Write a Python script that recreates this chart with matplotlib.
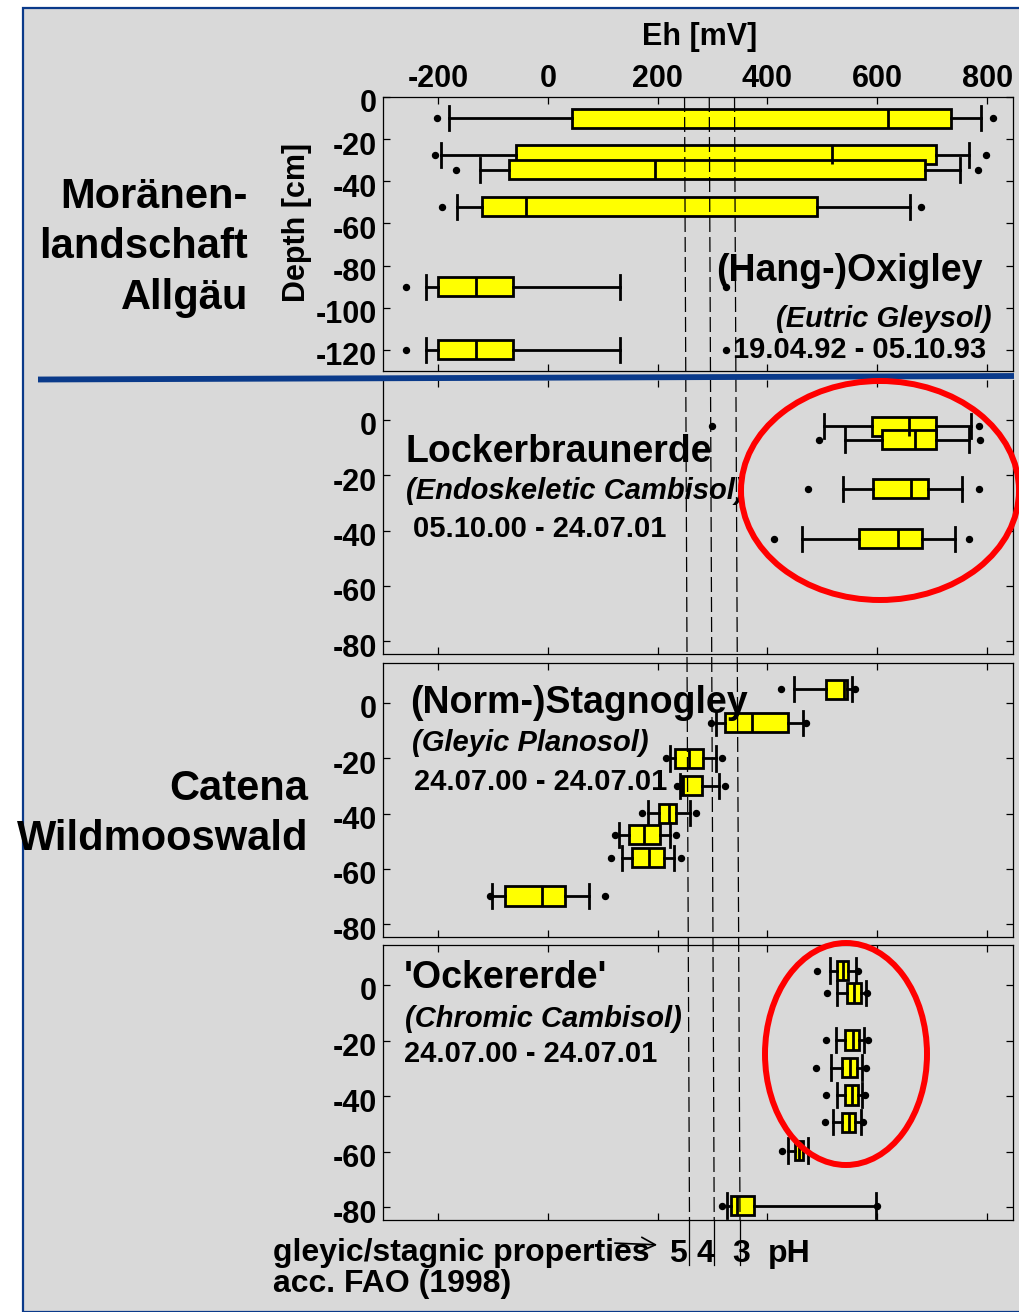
import numpy as np
import matplotlib
matplotlib.use('Agg')
import matplotlib.pyplot as plt
from matplotlib.patches import Ellipse, Rectangle
from matplotlib.lines import Line2D
from matplotlib.transforms import ScaledTranslation

plt.rcParams['font.family'] = ['Liberation Sans', 'DejaVu Sans']
plt.rcParams['font.weight'] = 'bold'
plt.rcParams['axes.unicode_minus'] = False

W, H = 1020, 1312
BG = '#d9d9d9'
NAVY = '#0a3a8a'

eh_ticks = [-200, 0, 200, 400, 600, 800]
depth_ticks_top = [0, -20, -40, -60, -80, -100, -120]
depth_ticks = [0, -20, -40, -60, -80]

# (Hang-)Oxigley, Moraenenlandschaft Allgaeu
d1 = [-10, -27.5, -34.5, -52, -90, -120]
q1_1 = [45, -57, -71, -119, -200, -200]
med_1 = [620, 518, 195, -40, -131, -131]
q3_1 = [735, 707, 687, 491, -64, -64]
lo_1 = [-180, -194, -124, -166, -222, -222]
hi_1 = [789, 766, 750, 659, 132, 132]
fl_1 = [[-202, 810], [-205, 798], [-167, 783], [-192, 680], [-259, 325], [-259, 325]]

# Lockerbraunerde
d2 = [-2.3, -7.2, -24.9, -43]
q1_2 = [590, 608, 592, 566]
med_2 = [658, 669, 661, 637]
q3_2 = [706, 707, 692, 681]
lo_2 = [502, 542, 537, 463]
hi_2 = [771, 766, 755, 741]
fl_2 = [[299, 786], [493, 787], [473, 786], [411, 766]]

# (Norm-)Stagnogley
d3 = [4.9, -7.2, -20.1, -30, -39.9, -47.7, -55.9, -69.8]
q1_3 = [507, 322, 232, 244, 202, 147, 153, -77]
med_3 = [539, 372, 257, 247, 220, 175, 185, -10]
q3_3 = [545, 438, 283, 280, 234, 205, 211, 32]
lo_3 = [448, 307, 223, 240, 182, 130, 136, -102]
hi_3 = [553, 465, 307, 312, 259, 223, 229, 75]
fl_3 = [[425, 559], [297, 471], [216, 318], [236, 323], [171, 270], [122, 234], [116, 242], [-105, 104]]

# 'Ockererde'
d4 = [5.2, -2.9, -19.8, -29.7, -39.6, -49.4, -59.6, -79.4]
q1_4 = [527, 544, 542, 536, 542, 536, 450, 333]
med_4 = [537, 557, 555, 550, 553, 548, 457, 344]
q3_4 = [547, 570, 567, 563, 565, 559, 465, 375]
lo_4 = [513, 526, 524, 515, 526, 520, 438, 327]
hi_4 = [561, 579, 576, 572, 572, 570, 474, 598]
fl_4 = [[490, 565], [509, 581], [507, 583], [489, 580], [507, 578], [504, 574], [427], [317, 600]]

# Eh of the pH 5 / 4 / 3 lines (top and bottom of the figure)
ph_eh_top = [249, 294, 340]
ph_eh_bottom = [258, 303, 350]
ph_labels = ['5', '4', '3']


def stats(q1, med, q3, lo, hi, fl):
    return [dict(q1=a, med=b, q3=c, whislo=d, whishi=e, fliers=f)
            for a, b, c, d, e, f in zip(q1, med, q3, lo, hi, fl)]


def fx(x):
    return x / W


def fy(y):
    return 1 - y / H


fig = plt.figure(figsize=(W / 100, H / 100), dpi=100)
fig.patch.set_facecolor('white')
fig.add_artist(Rectangle((fx(23), 0), 1, fy(7.5), transform=fig.transFigure,
                         facecolor=BG, edgecolor=NAVY, lw=1.6, zorder=-10))

panels = [
    (97, 371, (-130, 0), depth_ticks_top, d1, stats(q1_1, med_1, q3_1, lo_1, hi_1, fl_1), 9, 11.4),
    (380, 654, (-84.6, 14.4), depth_ticks, d2, stats(q1_2, med_2, q3_2, lo_2, hi_2, fl_2), 6.9, 8.7),
    (663, 937, (-84.6, 14.4), depth_ticks, d3, stats(q1_3, med_3, q3_3, lo_3, hi_3, fl_3), 6.9, 8.7),
    (945, 1220, (-84.6, 14.4), depth_ticks, d4, stats(q1_4, med_4, q3_4, lo_4, hi_4, fl_4), 6.9, 8.7),
]

axes = []
for i, (top, bot, ylim, yt, dep, st, bw, cw) in enumerate(panels):
    ax = fig.add_axes([fx(383), fy(bot), fx(1013) - fx(383), (bot - top) / H])
    ax.set_facecolor('none')
    ax.bxp(st, positions=dep, widths=bw, capwidths=cw, orientation='horizontal',
           patch_artist=True, manage_ticks=False,
           boxprops=dict(facecolor='#ffff00', edgecolor='black', linewidth=2.0),
           medianprops=dict(color='black', linewidth=2.0),
           whiskerprops=dict(color='black', linewidth=2.0),
           capprops=dict(color='black', linewidth=2.0),
           flierprops=dict(marker='o', markerfacecolor='black', markeredgecolor='black',
                           markersize=4.3))
    ax.set_xlim(-300, 847)
    ax.set_ylim(*ylim)
    ax.set_xticks(eh_ticks)
    ax.set_yticks(yt)
    ax.tick_params(direction='in', length=5, width=0.9, top=True, right=True,
                   labelsize=22, labelbottom=False, labeltop=(i == 0))
    ax.tick_params(axis='x', pad=2)
    ax.tick_params(axis='y', pad=4.3)
    for s in ax.spines.values():
        s.set_linewidth(0.9)
    if i == 1:
        ax.spines['top'].set_visible(False)
    off = ScaledTranslation(0, -4 / 100, fig.dpi_scale_trans)
    for lab in ax.get_yticklabels():
        lab.set_transform(lab.get_transform() + off)
    axes.append(ax)

# pH guide lines across all panels
inv = fig.transFigure.inverted()
for et, eb in zip(ph_eh_top, ph_eh_bottom):
    p0 = inv.transform(axes[0].transData.transform((et, 0)))
    p1 = inv.transform(axes[3].transData.transform((eb, -84.6)))
    fig.add_artist(Line2D([p0[0], p1[0]], [p0[1], p1[1]], transform=fig.transFigure,
                          color='black', lw=0.9, linestyle=(0, (12, 4)), zorder=3))
    fig.add_artist(Line2D([p1[0], p1[0]], [p1[1], fy(1265)], transform=fig.transFigure,
                          color='black', lw=0.9, zorder=3))

# separator
fig.add_artist(Line2D([fx(38), fx(1014)], [fy(379.5), fy(376)], transform=fig.transFigure,
                      color=NAVY, lw=4.2, solid_capstyle='butt', zorder=4))

# red ellipses
fig.add_artist(Ellipse((fx(880), fy(490.5)), 278 / W, 219 / H, transform=fig.transFigure,
                       fill=False, edgecolor='#ff0000', lw=4.3, zorder=5))
fig.add_artist(Ellipse((fx(846), fy(1054)), 162 / W, 222 / H, transform=fig.transFigure,
                       fill=False, edgecolor='#ff0000', lw=4.3, zorder=5))

# axis titles
fig.text(fx(700), fy(37), 'Eh [mV]', ha='center', va='center', fontsize=22)
fig.text(fx(297), fy(222), 'Depth [cm]', ha='center', va='center', rotation=90, fontsize=22)

# region labels
for txt, yb in zip(['Moränen-', 'landschaft', 'Allgäu'], [208, 258.5, 309]):
    fig.text(fx(248), fy(yb), txt, ha='right', va='baseline', fontsize=30)
for txt, yb in zip(['Catena', 'Wildmooswald'], [800, 850.5]):
    fig.text(fx(308), fy(yb), txt, ha='right', va='baseline', fontsize=30)

# soil names
fig.text(fx(983), fy(281), '(Hang-)Oxigley', ha='right', va='baseline', fontsize=27)
fig.text(fx(992), fy(327), '(Eutric Gleysol)', ha='right', va='baseline', fontsize=21, style='italic')
fig.text(fx(986), fy(358), '19.04.92 - 05.10.93', ha='right', va='baseline', fontsize=21)

fig.text(fx(406), fy(462), 'Lockerbraunerde', va='baseline', fontsize=27)
fig.text(fx(406), fy(499), '(Endoskeletic Cambisol)', va='baseline', fontsize=21, style='italic')
fig.text(fx(413), fy(537), '05.10.00 - 24.07.01', va='baseline', fontsize=21)

fig.text(fx(410), fy(713), '(Norm-)Stagnogley', va='baseline', fontsize=27)
fig.text(fx(412), fy(751), '(Gleyic Planosol)', va='baseline', fontsize=21, style='italic')
fig.text(fx(414), fy(790), '24.07.00 - 24.07.01', va='baseline', fontsize=21)

fig.text(fx(404), fy(988), "'Ockererde'", va='baseline', fontsize=27)
fig.text(fx(405), fy(1027), '(Chromic Cambisol)', va='baseline', fontsize=21, style='italic')
fig.text(fx(404), fy(1062), '24.07.00 - 24.07.01', va='baseline', fontsize=21)

# bottom legend
fig.text(fx(273), fy(1261), 'gleyic/stagnic properties', va='baseline', fontsize=23)
fig.text(fx(273), fy(1292), 'acc. FAO (1998)', va='baseline', fontsize=23)
fig.add_artist(plt.Annotation('', xy=(fx(660), fy(1245)), xytext=(fx(612), fy(1243)),
                              xycoords='figure fraction', textcoords='figure fraction',
                              arrowprops=dict(arrowstyle='->', color='black', lw=1.2,
                                              mutation_scale=25)))
for lab, x in zip(ph_labels, [678, 705, 741]):
    fig.text(fx(x), fy(1262), lab, ha='center', va='baseline', fontsize=23)
fig.text(fx(789), fy(1262), 'pH', ha='center', va='baseline', fontsize=23)

fig.savefig('out.png', dpi=100)
